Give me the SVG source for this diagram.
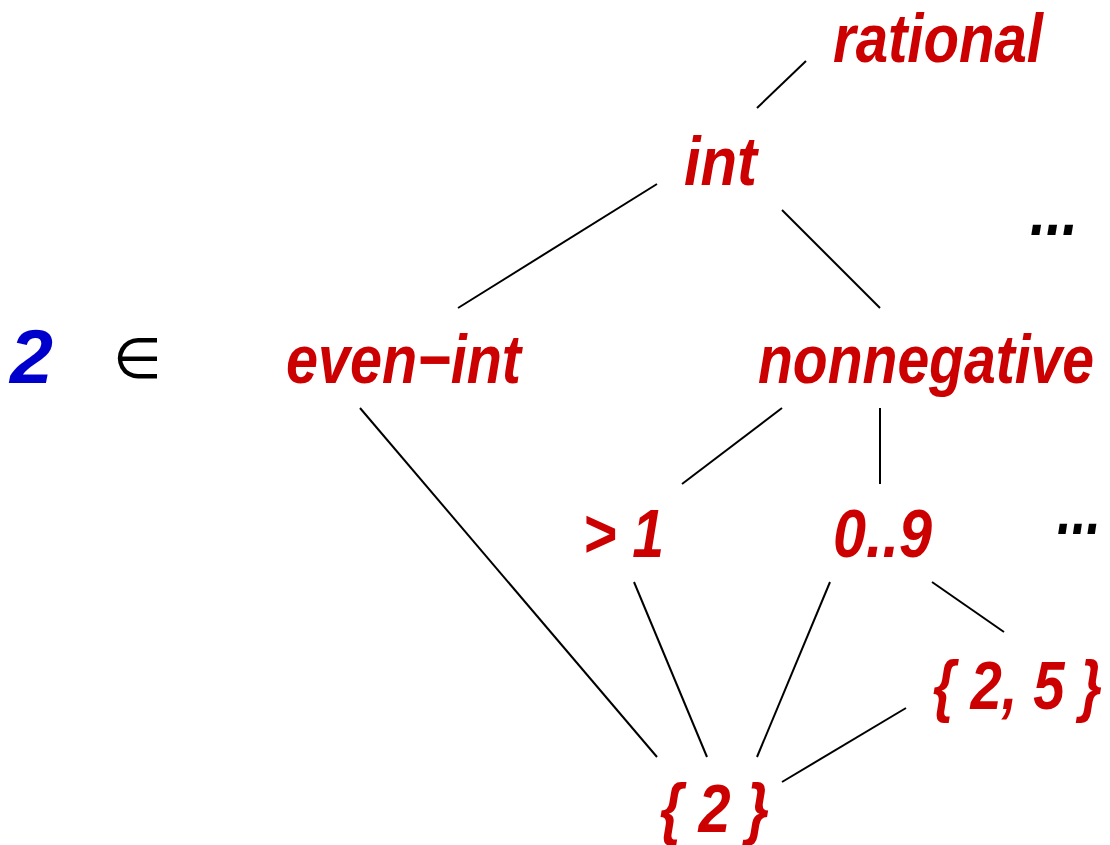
<svg xmlns="http://www.w3.org/2000/svg" width="1110" height="845" viewBox="0 0 1110 845">
<style>
.t{font-family:"Liberation Sans",Arial,sans-serif;font-weight:bold;font-style:italic;font-size:69px;fill:#cc0000}
.k{font-family:"Liberation Sans",Arial,sans-serif;font-weight:bold;font-style:italic;font-size:69px;fill:#000}
.e{stroke:#000;stroke-width:2;fill:none}
</style>
<rect width="1110" height="845" fill="#fff"/>
<g id="edges">
<line class="e" x1="757" y1="108" x2="806" y2="61"/>
<line class="e" x1="657" y1="184" x2="458" y2="308"/>
<line class="e" x1="782" y1="210" x2="880" y2="308"/>
<line class="e" x1="360" y1="408" x2="657" y2="757"/>
<line class="e" x1="782" y1="408" x2="682" y2="484"/>
<line class="e" x1="880" y1="408" x2="880" y2="484"/>
<line class="e" x1="634" y1="582" x2="707" y2="757"/>
<line class="e" x1="830" y1="582" x2="757" y2="757"/>
<line class="e" x1="932" y1="582" x2="1004" y2="632"/>
<line class="e" x1="906" y1="708" x2="782" y2="782"/>
</g>
<g id="rational"><text class="t" x="833" y="62" textLength="210" lengthAdjust="spacingAndGlyphs">rational</text></g>
<g id="int"><text class="t" x="684" y="185" textLength="73" lengthAdjust="spacingAndGlyphs">int</text></g>
<g id="dots1"><text class="k" x="1030" y="235" textLength="48" lengthAdjust="spacingAndGlyphs">...</text></g>
<g id="two"><text x="10" y="383" textLength="43" lengthAdjust="spacingAndGlyphs" style="font-family:'Liberation Sans',Arial,sans-serif;font-weight:bold;font-style:italic;font-size:76px;fill:#0000cc">2</text></g>
<g id="elem"><text x="113" y="378" style="font-family:'DejaVu Sans',sans-serif;font-size:56px;fill:#000">∈</text></g>
<g id="even-int"><text class="t" x="286" y="383" textLength="235" lengthAdjust="spacingAndGlyphs">even−int</text></g>
<g id="nonnegative"><text class="t" x="758" y="383" textLength="336" lengthAdjust="spacingAndGlyphs">nonnegative</text></g>
<g id="gt1"><text class="t" x="583" y="557" textLength="81" lengthAdjust="spacingAndGlyphs">&gt; 1</text></g>
<g id="zero9"><text class="t" x="833" y="557" textLength="99" lengthAdjust="spacingAndGlyphs">0..9</text></g>
<g id="dots2"><text class="k" x="1057" y="534" textLength="44" lengthAdjust="spacingAndGlyphs">...</text></g>
<g id="set25"><text class="t" x="933" y="709" textLength="169" lengthAdjust="spacingAndGlyphs">{ 2, 5 }</text></g>
<g id="set2"><text class="t" x="660" y="832" textLength="109" lengthAdjust="spacingAndGlyphs">{ 2 }</text></g>
</svg>
